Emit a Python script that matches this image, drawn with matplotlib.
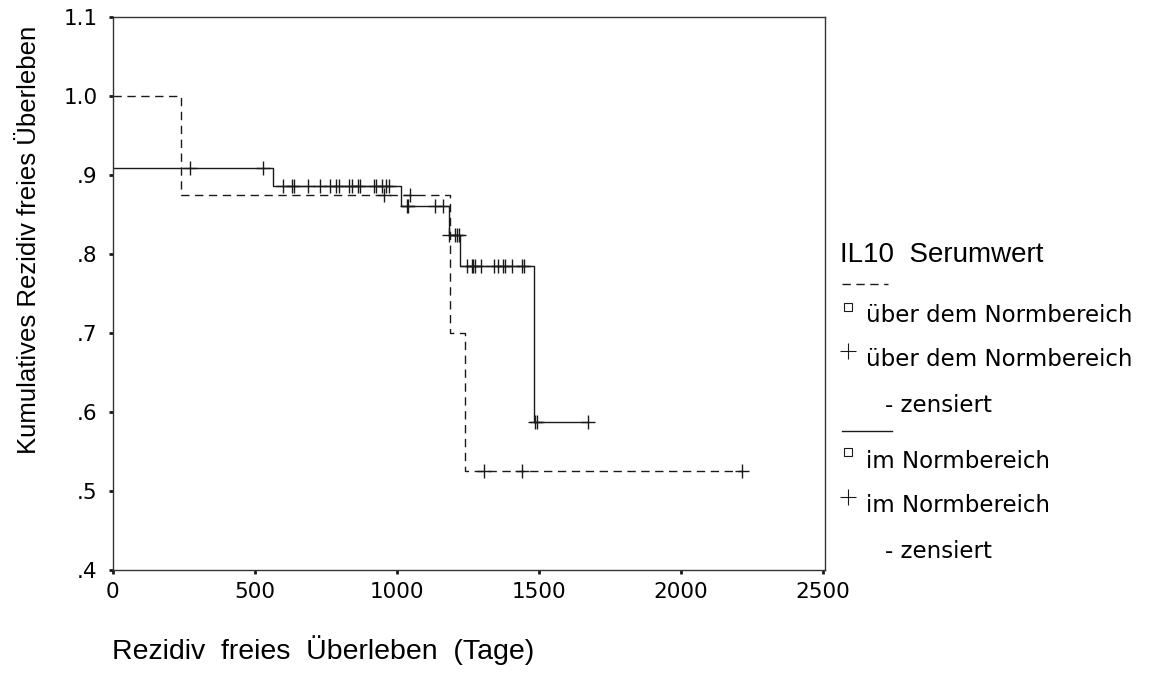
import matplotlib
matplotlib.use('Agg')
import matplotlib.pyplot as plt
from matplotlib.lines import Line2D
import numpy as np

# Kaplan-Meier Stufen (Tage, kumulatives rezidivfreies Ueberleben)
norm_t = [0, 563, 1015, 1182, 1223, 1482, 1672]
norm_s = [0.909, 0.886, 0.861, 0.824, 0.785, 0.587, 0.587]
norm_cens = [271, 530, 598, 631, 639, 689, 729, 764, 785, 796, 831, 841, 864, 872,
             919, 927, 948, 962, 972, 1035, 1038, 1135, 1162, 1182, 1205, 1211, 1219,
             1248, 1264, 1269, 1275, 1296, 1342, 1355, 1375, 1381, 1406, 1441, 1448,
             1488, 1495, 1672]

ueber_t = [0, 239, 1188, 1240, 2215]
ueber_s = [1.0, 0.875, 0.7, 0.525, 0.525]
ueber_cens = [955, 1048, 1307, 1439, 2215]

x_ticks = [0, 500, 1000, 1500, 2000, 2500]
y_ticks = [0.4, 0.5, 0.6, 0.7, 0.8, 0.9, 1.0, 1.1]
y_labels = ['.4', '.5', '.6', '.7', '.8', '.9', '1.0', '1.1']

legend_title = 'IL10  Serumwert'
legend_rows = ['über dem Normbereich', 'über dem Normbereich', '- zensiert',
               'im Normbereich', 'im Normbereich', '- zensiert']

W, H = 1154, 697
ink = '#1a1a1a'
dash = (0, (6, 4))


def fx(px):
    return px / W


def fy(py):
    return 1 - py / H


def level(t, times, surv):
    idx = np.searchsorted(times, t, side='right') - 1
    return np.asarray(surv)[idx]


fig = plt.figure(figsize=(W / 100, H / 100), dpi=100)
ax = fig.add_axes([fx(112.7), fy(570), fx(825 - 112.7), (570 - 16.7) / H])

ax.step(ueber_t, ueber_s, where='post', color=ink, lw=1.0, linestyle=dash)
ax.step(norm_t, norm_s, where='post', color=ink, lw=1.0)
ax.plot(ueber_cens, level(ueber_cens, ueber_t, ueber_s), '+', ms=10, mew=1.0, color=ink)
ax.plot(norm_cens, level(norm_cens, norm_t, norm_s), '+', ms=10, mew=1.0, color=ink)

ax.set_xlim(0, 2500 * (825 - 112.7) / (823 - 112.7))
ax.set_ylim(0.4, 1.1)
ax.set_xticks(x_ticks)
ax.set_xticklabels([str(v) for v in x_ticks], fontsize=15.5)
ax.set_yticks(y_ticks)
ax.set_yticklabels(y_labels, fontsize=15.5)
ax.tick_params(direction='out', length=3, width=2, color=ink, pad=8)
ax.tick_params(axis='x', pad=6)
for s in ax.spines.values():
    s.set_linewidth(1.0)
    s.set_color('#333333')

fig.text(fx(29), fy(240), 'Kumulatives Rezidiv freies Überleben', rotation=90,
         ha='center', va='center', fontsize=18.5, family='Liberation Sans')
fig.text(fx(112), fy(650), 'Rezidiv  freies  Überleben  (Tage)',
         ha='left', va='center', fontsize=20.5, family='Liberation Sans')

# Legende
fig.text(fx(840), fy(255), legend_title, ha='left', va='center',
         fontsize=20, family='Liberation Sans')
fig.add_artist(Line2D([fx(842), fx(888)], [fy(284), fy(284)], color=ink, lw=1.0,
                      linestyle=dash, transform=fig.transFigure))
fig.add_artist(Line2D([fx(842), fx(892)], [fy(431), fy(431)], color=ink, lw=1.0,
                      transform=fig.transFigure))
row_y = [316, 360, 405, 461, 506, 551]
row_mark = ['s', '+', None, 's', '+', None]
for text, y, m in zip(legend_rows, row_y, row_mark):
    x0 = 885 if m is None else 866
    fig.text(fx(x0), fy(y), text, ha='left', va='center', fontsize=16.5)
    if m == 's':
        fig.add_artist(Line2D([fx(848)], [fy(y - 9)], marker='s', ms=5.5, mfc='white',
                              mec=ink, mew=0.8, transform=fig.transFigure))
    elif m == '+':
        fig.add_artist(Line2D([fx(848)], [fy(y - 9)], marker='+', ms=11, mew=0.8,
                              color=ink, transform=fig.transFigure))

fig.savefig('out.png', dpi=100)
